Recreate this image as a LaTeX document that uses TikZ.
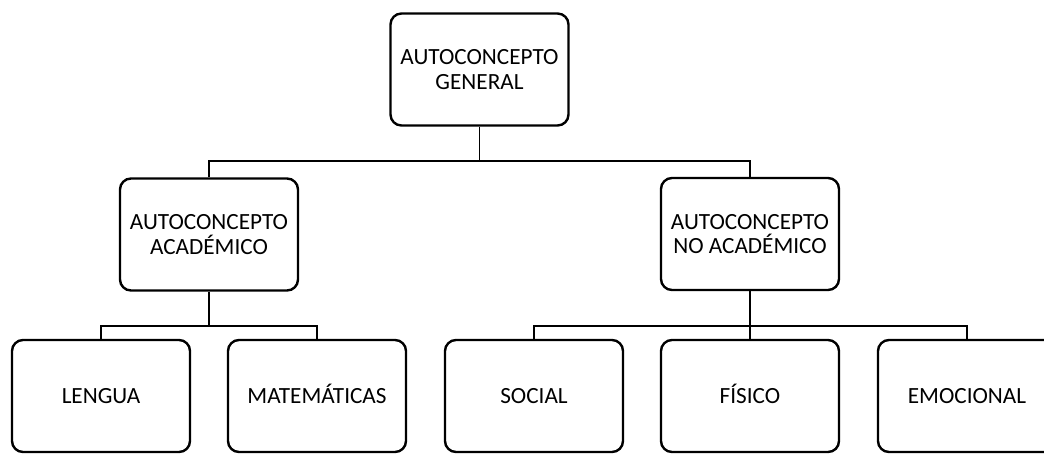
\documentclass[tikz,border=0pt]{standalone}
\usepackage{fontspec}
\setmainfont{Carlito}
\begin{document}
\begin{tikzpicture}[x=1pt,y=-1pt,
  box/.style={draw=black, line width=2.4pt, rounded corners=11pt, fill=white,
    minimum width=178pt, minimum height=112pt, align=center,
    font=\fontsize{23.2}{24.5}\selectfont, inner sep=0pt},
  onebox/.style={box, text height=15pt, text depth=0pt},
  conn/.style={draw=black, line width=1.6pt}]
\useasboundingbox (0,0) rectangle (1044,453);
\fill[white] (0,0) rectangle (1044,453);
\clip (0,0) rectangle (1044,453);
% nodes
\node[box] (gen) at (479.5,69.5) {AUTOCONCEPTO\\GENERAL};
\node[box] (acad) at (209,234.5) {AUTOCONCEPTO\\ACADÉMICO};
\node[box] (noacad) at (750,234) {AUTOCONCEPTO\\NO ACADÉMICO};
\node[onebox] (len) at (101,396) {LENGUA};
\node[onebox] (mat) at (317,396) {MATEMÁTICAS};
\node[onebox] (soc) at (534,396) {SOCIAL};
\node[onebox] (fis) at (750,396) {FÍSICO};
\node[onebox] (emo) at (967,396) {EMOCIONAL};
% junctions
\coordinate (j1) at (479.5,161);
\coordinate (j2) at (209,326);
\coordinate (j3) at (750,326);
% connectors
\draw[conn] (gen.south) -- (j1);
\draw[conn] (acad.north) |- (j1) -| (noacad.north);
\draw[conn] (acad.south) -- (j2);
\draw[conn] (len.north) |- (j2) -| (mat.north);
\draw[conn] (noacad.south) -- (fis.north);
\draw[conn] (soc.north) |- (j3) -| (emo.north);
\end{tikzpicture}
\end{document}
